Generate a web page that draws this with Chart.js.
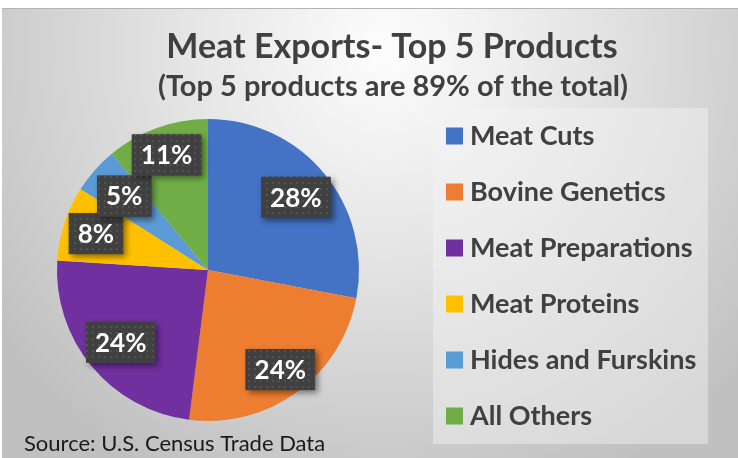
<!DOCTYPE html>
<html>
<head>
<meta charset="utf-8">
<script src="https://cdn.jsdelivr.net/npm/chart.js@4.4.0/dist/chart.umd.min.js"></script>
<style>
  html, body { margin: 0; padding: 0; background: #fff; }
  #wrap { width: 738px; height: 458px; }
</style>
</head>
<body>
<div id="wrap"><canvas id="chart" width="738" height="458"></canvas></div>
<script>
const categories = ['Meat Cuts', 'Bovine Genetics', 'Meat Preparations', 'Meat Proteins', 'Hides and Furskins', 'All Others'];
const shares = [28, 24, 24, 8, 5, 11];
const sliceColors = ['#4472C4', '#ED7D31', '#7030A0', '#FFC000', '#5B9BD5', '#70AD47'];
const titleText = 'Meat Exports- Top 5 Products';
const subtitleText = '(Top 5 products are 89% of the total)';
const sourceText = 'Source: U.S. Census Trade Data';

const FONT = 'Lato, "Open Sans", sans-serif';

// dotted dark fill used behind the percentage labels
function makeDots() {
  const c = document.createElement('canvas');
  c.width = 6; c.height = 6;
  const g = c.getContext('2d');
  g.fillStyle = '#404040';
  g.fillRect(0, 0, 6, 6);
  g.fillStyle = '#525252';
  g.fillRect(2, 2, 2, 2);
  return c;
}

const backdrop = {
  id: 'backdrop',
  beforeDraw(chart) {
    const ctx = chart.ctx;
    const w = chart.width, h = chart.height;
    ctx.save();
    ctx.fillStyle = '#ffffff';
    ctx.fillRect(0, 0, w, h);
    const grad = ctx.createRadialGradient(385, 50, 0, 385, 50, 480);
    grad.addColorStop(0, '#fdfdfd');
    grad.addColorStop(0.45, '#e3e3e3');
    grad.addColorStop(1, '#c0c0c0');
    ctx.fillStyle = grad;
    ctx.fillRect(2, 8, w - 2, h - 8);
    ctx.fillStyle = '#b4b4b4';
    ctx.fillRect(2, 8, w - 2, 1);

    ctx.fillStyle = '#404040';
    ctx.textAlign = 'center';
    ctx.textBaseline = 'middle';
    ctx.font = 'bold 34px ' + FONT;
    ctx.fillText(titleText, 392, 47);
    ctx.font = 'bold 29px ' + FONT;
    ctx.fillText(subtitleText, 393, 87);

    ctx.fillStyle = '#1a1a1a';
    ctx.textAlign = 'left';
    ctx.font = '22px ' + FONT;
    ctx.fillText(sourceText, 24, 444);
    ctx.restore();
  }
};

const sideLegend = {
  id: 'sideLegend',
  afterDraw(chart) {
    const ctx = chart.ctx;
    const ds = chart.data.datasets[0];
    ctx.save();
    ctx.fillStyle = 'rgba(245,245,245,0.45)';
    ctx.fillRect(433, 108, 275, 336);
    ctx.font = 'bold 27px ' + FONT;
    ctx.textBaseline = 'middle';
    ctx.textAlign = 'left';
    chart.data.labels.forEach((lab, i) => {
      const y = 136 + i * 56;
      ctx.fillStyle = ds.backgroundColor[i];
      ctx.fillRect(446, y - 8.5, 17, 17);
      ctx.fillStyle = '#404040';
      ctx.fillText(lab, 470, y);
    });
    ctx.restore();
  }
};

const boxLabels = {
  id: 'boxLabels',
  afterDatasetsDraw(chart, args, opts) {
    const ctx = chart.ctx;
    const meta = chart.getDatasetMeta(0);
    const vals = chart.data.datasets[0].data;
    const total = vals.reduce((a, b) => a + b, 0);
    const pattern = ctx.createPattern(makeDots(), 'repeat');
    ctx.save();
    ctx.font = 'bold 26px ' + FONT;
    ctx.textAlign = 'center';
    ctx.textBaseline = 'middle';
    meta.data.forEach((arc, i) => {
      const p = arc.getProps(['x', 'y', 'startAngle', 'endAngle', 'outerRadius'], true);
      const mid = (p.startAngle + p.endAngle) / 2;
      const r = p.outerRadius * opts.radial[i];
      const cx = p.x + Math.cos(mid) * r;
      const cy = p.y + Math.sin(mid) * r;
      const txt = Math.round(vals[i] / total * 100) + '%';
      const bw = ctx.measureText(txt).width + 18;
      const bh = 41;
      ctx.save();
      ctx.shadowColor = 'rgba(0,0,0,0.45)';
      ctx.shadowBlur = 6;
      ctx.shadowOffsetX = 3;
      ctx.shadowOffsetY = 3;
      ctx.fillStyle = '#404040';
      ctx.fillRect(cx - bw / 2, cy - bh / 2, bw, bh);
      ctx.restore();
      ctx.fillStyle = pattern;
      ctx.fillRect(cx - bw / 2, cy - bh / 2, bw, bh);
      ctx.fillStyle = '#ffffff';
      ctx.fillText(txt, cx, cy + 1);
    });
    ctx.restore();
  }
};

new Chart(document.getElementById('chart'), {
  type: 'pie',
  data: {
    labels: categories,
    datasets: [{
      data: shares,
      backgroundColor: sliceColors,
      borderWidth: 0
    }]
  },
  options: {
    responsive: false,
    animation: false,
    layout: { padding: { left: 57, right: 379, top: 119, bottom: 37 } },
    plugins: {
      legend: { display: false },
      tooltip: { enabled: false },
      boxLabels: { radial: [0.755, 0.815, 0.75, 0.78, 0.74, 0.81] }
    }
  },
  plugins: [backdrop, sideLegend, boxLabels]
});
</script>
</body>
</html>
